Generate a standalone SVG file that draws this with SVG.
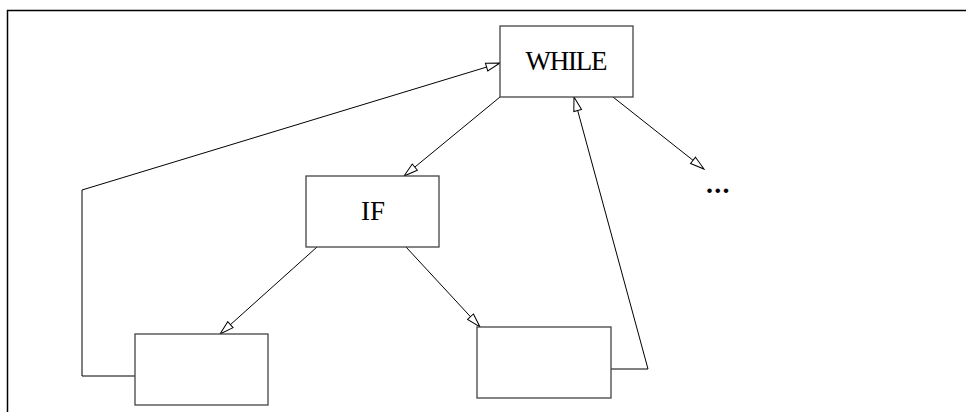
<svg xmlns="http://www.w3.org/2000/svg" width="966" height="412" viewBox="0 0 966 412">
<style>
.box{fill:#fff;stroke:#444;stroke-width:1.3}
.lbl{font-family:"Liberation Serif",serif;font-size:27px;fill:#000;text-anchor:middle}
.edge{fill:none;stroke:#000;stroke-width:1}
.frame{fill:none;stroke:#000;stroke-width:1.5}
</style>
<defs>
<marker id="arr" markerUnits="userSpaceOnUse" markerWidth="16" markerHeight="10" viewBox="0 0 16 10" refX="15" refY="5" orient="auto">
<path d="M1,1 L15,5 L1,9 Z" fill="#fff" stroke="#000" stroke-width="1"/>
</marker>
</defs>
<path class="frame" d="M7.5,412 V10.5 H966"/>
<g id="connectors">
<line class="edge" x1="500" y1="97" x2="404" y2="176" marker-end="url(#arr)"/>
<line class="edge" x1="317" y1="247" x2="220" y2="334" marker-end="url(#arr)"/>
<line class="edge" x1="406" y1="247" x2="480" y2="327" marker-end="url(#arr)"/>
<line class="edge" x1="613" y1="97" x2="704" y2="169" marker-end="url(#arr)"/>
<polyline class="edge" points="135,376 82,376 82,190 500,63" marker-end="url(#arr)"/>
<polyline class="edge" points="611,369 648,369 574,97" marker-end="url(#arr)"/>
</g>
<g id="while">
<rect class="box" x="500" y="26" width="133" height="71"/>
<text class="lbl" x="566.5" y="70" textLength="82" lengthAdjust="spacing">WHILE</text>
</g>
<g id="if">
<rect class="box" x="306" y="176" width="133" height="71"/>
<text class="lbl" x="373" y="220">IF</text>
</g>
<g id="leftbox">
<rect class="box" x="135" y="334" width="133" height="71"/>
</g>
<g id="rightbox">
<rect class="box" x="477" y="327" width="134" height="71"/>
</g>
<g id="more">
<text x="706" y="193" font-family="Liberation Serif,serif" font-size="28" font-weight="bold" letter-spacing="1.2">...</text>
</g>
</svg>
